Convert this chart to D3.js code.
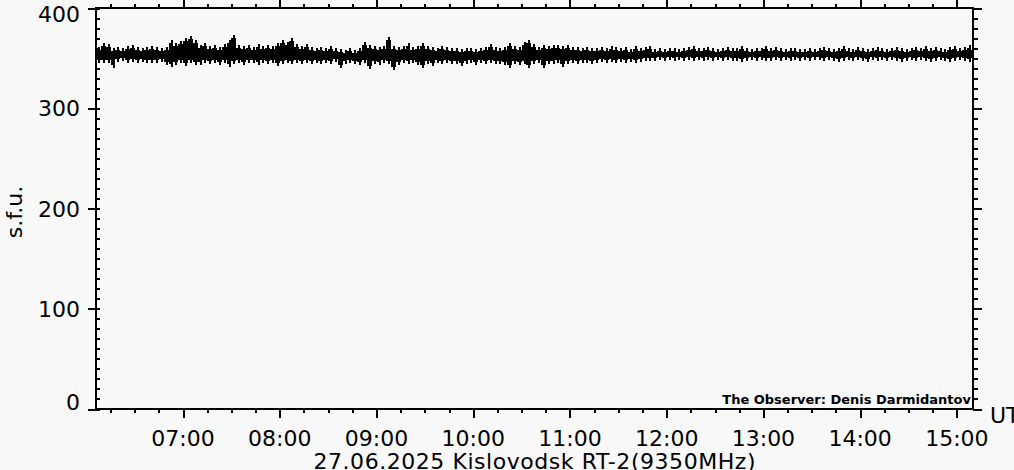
<!DOCTYPE html>
<html><head><meta charset="utf-8">
<script src="https://cdn.jsdelivr.net/npm/d3@7"></script>
<style>html,body{margin:0;padding:0;background:#f8f8f8;} svg{display:block;}</style>
</head><body><svg id="c" width="1014" height="470"></svg>
<script>
// ---- data ----
const binStart = "06:06";          // first 3-minute bin
const binMinutes = 3;
// upper envelope of the flux in each 3-minute bin (s.f.u.)
const fluxHigh = [
361,365,364,360,361,360,362,363,361,360,361,362,361,360,361,368,365,367,370,372,368,363,365,362,363,361,364,368,373,363,362,363,361,364,362,363,362,
365,368,366,370,364,362,364,361,360,361,360,362,360,359,358,360,358,360,366,363,362,361,362,371,362,361,362,365,361,362,365,362,361,360,362,361,360,
360,359,360,360,359,360,361,364,361,360,361,365,362,361,366,368,364,361,363,362,363,363,362,363,361,361,360,361,360,360,361,360,362,361,360,361,
359,362,360,361,362,359,360,359,360,360,359,360,361,362,360,360,361,360,359,360,361,360,360,362,360,359,360,360,362,360,361,360,359,360,360,359,
359,360,359,360,361,360,359,360,362,360,359,361,360,359,360,361,360,359,360,361,360,359,360,361,360,362,360,361,360,359,361,362,360,361,363,361
];
// lower envelope of the flux in each 3-minute bin (s.f.u.)
const fluxLow = [
345,345,345,340,346,347,345,346,345,346,345,345,345,346,343,341,343,345,342,345,343,343,345,344,345,343,345,341,344,345,343,345,345,343,345,344,345,
342,344,345,344,345,344,345,344,345,344,345,344,346,340,344,345,344,343,345,339,344,343,345,344,338,343,345,344,345,343,340,344,342,345,344,345,344,
344,342,344,345,343,345,344,345,344,344,343,340,344,343,344,340,344,345,340,344,344,345,341,344,345,344,345,345,344,345,346,345,346,345,346,345,
346,345,346,347,347,347,348,347,348,347,348,347,348,347,348,347,348,347,348,347,348,347,347,346,347,348,347,348,347,347,348,347,348,347,348,347,
348,347,348,348,347,348,347,346,347,348,347,348,347,346,348,347,348,347,348,347,346,347,348,347,348,347,346,347,348,347,346,347,348,347,346,347
];
const timeRange = ["06:06", "15:10"];
const hourTicks = ["07:00","08:00","09:00","10:00","11:00","12:00","13:00","14:00","15:00"];
const fluxTicks = [0, 100, 200, 300, 400];
const fluxRange = [0, 400];
const yTitle = "s.f.u.";
const xUnit = "UT";
const caption = "27.06.2025 Kislovodsk RT-2(9350MHz)";
const observer = "The Observer: Denis Darmidantov";

// ---- drawing ----
const parse = d3.timeParse("%H:%M");
const L = 96, R = 973, T = 8, B = 409;
const svg = d3.select("#c");
svg.append("rect").attr("width",1014).attr("height",470).attr("fill","#f8f8f8");

const x = d3.scaleTime().domain(timeRange.map(parse)).range([L, R]);
const y = d3.scaleLinear().domain(fluxRange).range([B, T]);

const t0 = parse(binStart);
const pts = fluxHigh.map((h, i) => ({t: d3.timeMinute.offset(t0, i * binMinutes), hi: h, lo: fluxLow[i]}));
const ext = [...pts, {...pts[pts.length - 1], t: d3.timeMinute.offset(pts[pts.length - 1].t, binMinutes)}];

svg.append("clipPath").attr("id","clip").append("rect")
  .attr("x", L).attr("y", T).attr("width", R - L).attr("height", B - T);

const band = svg.append("g").attr("clip-path","url(#clip)");
// solid core of the noise band (steps, slightly inside the envelope)
band.append("path").datum(ext)
  .attr("fill","#000").attr("shape-rendering","crispEdges")
  .attr("d", d3.area().curve(d3.curveStepAfter).x(d => Math.round(x(d.t)))
    .y0(d => Math.round(y(d.lo) - 3)).y1(d => Math.round(y(d.hi) + 3)));
// full min/max excursion of every bin as narrow vertical spikes
band.append("g").selectAll("line").data(pts).join("line")
  .attr("x1", d => Math.round(x(d.t) + 2) + 1).attr("x2", d => Math.round(x(d.t) + 2) + 1)
  .attr("y1", d => Math.round(y(d.hi))).attr("y2", d => Math.round(y(d.lo)))
  .attr("stroke","#000").attr("stroke-width",2).attr("shape-rendering","crispEdges");

const majorT = hourTicks.map(parse);
const minorT = d3.timeMinute.every(15).range(x.domain()[0], x.domain()[1]);
const minorY = d3.range(fluxRange[0], fluxRange[1] + 1, 10);

function styleAxis(g){
  g.select(".domain").remove();
  g.selectAll("line").attr("stroke","#000").attr("stroke-width",2).attr("shape-rendering","crispEdges");
  g.selectAll("text").remove();
}
// bottom
svg.append("g").attr("transform",`translate(0,${B})`).call(d3.axisBottom(x).tickValues(minorT).tickSize(4).tickSizeOuter(0)).call(styleAxis);
svg.append("g").attr("transform",`translate(0,${B})`).call(d3.axisBottom(x).tickValues(majorT).tickSize(9).tickSizeOuter(0)).call(styleAxis);
// top
svg.append("g").attr("transform",`translate(0,${T})`).call(d3.axisTop(x).tickValues(minorT).tickSize(4).tickSizeOuter(0)).call(styleAxis);
svg.append("g").attr("transform",`translate(0,${T})`).call(d3.axisTop(x).tickValues(majorT).tickSize(8).tickSizeOuter(0)).call(styleAxis);
// left: major outward, minor inward
svg.append("g").attr("transform",`translate(${L},0)`).call(d3.axisRight(y).tickValues(minorY).tickSize(4).tickSizeOuter(0)).call(styleAxis);
svg.append("g").attr("transform",`translate(${L},0)`).call(d3.axisLeft(y).tickValues(fluxTicks).tickSize(8).tickSizeOuter(0)).call(styleAxis);
// right: outward
svg.append("g").attr("transform",`translate(${R},0)`).call(d3.axisRight(y).tickValues(minorY).tickSize(5).tickSizeOuter(0)).call(styleAxis);
svg.append("g").attr("transform",`translate(${R},0)`).call(d3.axisRight(y).tickValues(fluxTicks).tickSize(9).tickSizeOuter(0)).call(styleAxis);

// frame
svg.append("rect").attr("x",L).attr("y",T).attr("width",R-L).attr("height",B-T)
  .attr("fill","none").attr("stroke","#000").attr("stroke-width",2).attr("shape-rendering","crispEdges");

const font = "'DejaVu Sans', sans-serif";
// y labels
svg.append("g").selectAll("text").data(fluxTicks).join("text")
  .attr("x", 80).attr("y", d => Math.min(Math.max(y(d), 14), 402) + 8)
  .attr("text-anchor","end").attr("font-family",font).attr("font-size",22).attr("fill","#000")
  .text(d => d);
// x labels
svg.append("g").selectAll("text").data(majorT).join("text")
  .attr("x", d => x(d)).attr("y", 446)
  .attr("text-anchor","middle").attr("font-family",font).attr("font-size",22).attr("fill","#000")
  .text(d => d3.timeFormat("%H:%M")(d));

svg.append("text").attr("transform","translate(22,212) rotate(-90)")
  .attr("text-anchor","middle").attr("font-family",font).attr("font-size",22).attr("fill","#000").text(yTitle);
svg.append("text").attr("x",990).attr("y",423)
  .attr("font-family",font).attr("font-size",22).attr("fill","#000").text(xUnit);
svg.append("text").attr("x",(L+R)/2).attr("y",469).attr("text-anchor","middle")
  .attr("font-family",font).attr("font-size",22).attr("fill","#000")
  .attr("textLength",442).attr("lengthAdjust","spacing").text(caption);
svg.append("text").attr("x",971).attr("y",404).attr("text-anchor","end")
  .attr("font-family",font).attr("font-size",13).attr("font-weight","bold").attr("fill","#000").text(observer);
</script>
</body></html>
